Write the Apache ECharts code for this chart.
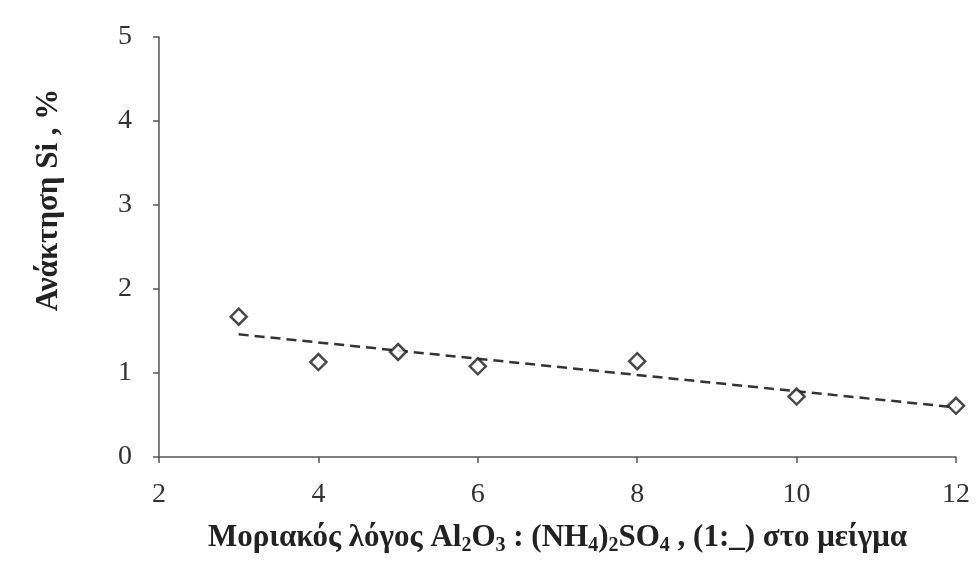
<!DOCTYPE html>
<html>
<head>
<meta charset="utf-8">
<script src="https://cdn.jsdelivr.net/npm/echarts@6/dist/echarts.min.js"></script>
<style>
  html, body { margin: 0; padding: 0; background: #fff; }
  #chart { width: 979px; height: 568px; }
</style>
</head>
<body>
<div id="chart"></div>
<script>
const ratios = [3, 4, 5, 6, 8, 10, 12];
const siRecovery = [1.67, 1.13, 1.25, 1.08, 1.14, 0.72, 0.61];
// linear trend line ends
const trendX = [3, 12];
const trendY = [1.46, 0.59];

const xTitle = 'Μοριακός λόγος Al{s|2}O{s|3} : (NH{s|4}){s|2}SO{s|4} , (1:_) στο μείγμα';
const yTitle = 'Ανάκτηση Si , %';

const serif = '"Liberation Serif", "DejaVu Serif", serif';
const axisColor = '#555';

const chart = echarts.init(document.getElementById('chart'), null, { renderer: 'canvas' });

chart.setOption({
    backgroundColor: '#fff',
    animation: false,
    grid: { left: 159, right: 23, top: 37, bottom: 111 },
    xAxis: {
        type: 'value',
        min: 2,
        max: 12,
        interval: 2,
        splitLine: { show: false },
        axisLine: { lineStyle: { color: axisColor, width: 1.5 } },
        axisTick: { inside: false, length: 6, lineStyle: { color: axisColor, width: 1.5 } },
        axisLabel: { margin: 24, fontFamily: serif, fontSize: 28, color: '#333' },
        name: xTitle,
        nameLocation: 'middle',
        nameGap: 63,
        nameTextStyle: {
            fontFamily: serif,
            fontSize: 31,
            fontWeight: 'bold',
            color: '#222',
            rich: {
                s: { fontFamily: serif, fontSize: 20, fontWeight: 'bold', color: '#222', verticalAlign: 'bottom', padding: [16, 0, 0, 0] }
            }
        }
    },
    yAxis: {
        type: 'value',
        min: 0,
        max: 5,
        interval: 1,
        splitLine: { show: false },
        axisLine: { show: true, lineStyle: { color: axisColor, width: 1.5 } },
        axisTick: { show: true, inside: false, length: 6, lineStyle: { color: axisColor, width: 1.5 } },
        axisLabel: { margin: 27, fontFamily: serif, fontSize: 28, color: '#333' },
        name: yTitle,
        nameLocation: 'middle',
        nameGap: 95,
        nameTextStyle: {
            fontFamily: serif,
            fontSize: 31,
            fontWeight: 'bold',
            color: '#222',
            padding: [0, 0, 0, 94]
        }
    },
    series: [
        {
            type: 'line',
            data: trendX.map((x, i) => [x, trendY[i]]),
            symbol: 'none',
            lineStyle: { color: '#333', width: 2.5, type: [10, 6] },
            z: 1
        },
        {
            type: 'scatter',
            data: ratios.map((x, i) => [x, siRecovery[i]]),
            symbol: 'diamond',
            symbolSize: 16,
            itemStyle: { color: '#fff', borderColor: '#1a1a1a', borderWidth: 2.5 },
            z: 2
        }
    ]
});
</script>
</body>
</html>
